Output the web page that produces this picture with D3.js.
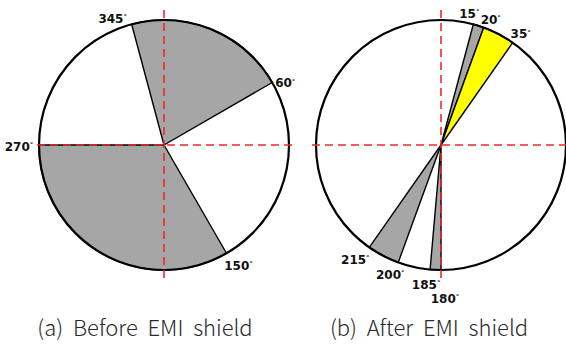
<!DOCTYPE html>
<html>
<head>
<meta charset="utf-8">
<script src="https://cdn.jsdelivr.net/npm/d3@7"></script>
<style>
html,body{margin:0;padding:0;background:#fff;}
svg{display:block;}
</style>
</head>
<body>
<svg id="chart" width="566" height="345"></svg>
<script>
// ---- data ----
const captions = ["(a)  Before  EMI  shield", "(b)  After  EMI  shield"];
// panel (a): sector bearings in degrees (clockwise from north)
const startA = [345, 150];
const endA   = [60, 270];
const kindA  = ["grey", "grey"];
const labelsA = [345, 60, 150, 270];
// panel (b)
const startB = [15, 20, 180, 200];
const endB   = [20, 35, 185, 215];
const kindB  = ["grey", "yellow", "grey", "grey"];
const labelsB = [15, 20, 35, 180, 185, 200, 215];

// ---- layout ----
const R = 125;
const centersX = [164, 441];
const centerY = 145;
// label offsets from the rim point (dx, dy)
const offA = [[-19,-6],[13,0],[12,12],[-20,1]];
const offB = [[-4,-11],[7,-8.5],[8,-9],[4,28],[-4,14.5],[-8,11.5],[-14,12]];
const dashExt = [
  {v:[10,283], h:[37,296]},
  {v:[10,283], h:[312,566]}
];
const fills = {grey:"#a6a6a6", yellow:"#ffff00"};

const svg = d3.select("#chart");
const rad = d3.scaleLinear().domain([0,360]).range([0, 2*Math.PI]);
const arc = d3.arc().innerRadius(0).outerRadius(R);

const panels = [
  {starts:startA, ends:endA, kinds:kindA, labels:labelsA, offs:offA},
  {starts:startB, ends:endB, kinds:kindB, labels:labelsB, offs:offB}
];

panels.forEach((p, i) => {
  const g = svg.append("g").attr("transform", `translate(${centersX[i]},${centerY})`);
  g.append("circle").attr("r", R).attr("fill", "#fff");
  const sectors = p.starts.map((s, k) => {
    let e = p.ends[k];
    if (e < s) e += 360;
    return {s, e, kind: p.kinds[k]};
  });
  g.selectAll("path.sector").data(sectors).join("path")
    .attr("class","sector")
    .attr("d", d => arc({startAngle: rad(d.s), endAngle: rad(d.e)}))
    .attr("fill", d => fills[d.kind])
    .attr("stroke", "#000")
    .attr("stroke-width", 1.4)
    .attr("stroke-linejoin","round");
  g.append("circle").attr("r", R).attr("fill", "none")
    .attr("stroke", "#000").attr("stroke-width", 2.2);

  p.labels.forEach((a, k) => {
    const th = rad(a);
    const x = R * Math.sin(th) + p.offs[k][0];
    const y = -R * Math.cos(th) + p.offs[k][1];
    const t = g.append("text")
      .attr("x", x).attr("y", y + 4.6)
      .attr("text-anchor", "middle")
      .attr("font-family", "DejaVu Sans, sans-serif")
      .attr("font-weight", "bold")
      .attr("font-size", 12)
      .attr("fill", "#111");
    t.append("tspan").text(a);
    t.append("tspan").text("°").attr("font-size", 7).attr("font-weight","normal").attr("dy", -3.5);
  });
});

panels.forEach((p, i) => {
  const cx = centersX[i];
  const ext = dashExt[i];
  svg.append("line").attr("x1", cx).attr("x2", cx)
    .attr("y1", ext.v[0]).attr("y2", ext.v[1]);
  svg.append("line").attr("x1", ext.h[0]).attr("x2", ext.h[1])
    .attr("y1", centerY).attr("y2", centerY);
});
svg.selectAll("line")
  .attr("stroke", "#ee2a2a")
  .attr("stroke-width", 1.6)
  .attr("stroke-dasharray", "8,5");

svg.selectAll("text.cap").data(captions).join("text")
  .attr("class","cap")
  .attr("x", (d,i) => [145, 429][i])
  .attr("y", 336)
  .attr("text-anchor","middle")
  .attr("font-family", "Noto Sans CJK KR, Noto Sans, sans-serif")
  .attr("font-weight", 300)
  .attr("font-size", 22)
  .attr("fill", "#2a2a2a")
  .style("white-space","pre")
  .text(d => d);
</script>
</body>
</html>
